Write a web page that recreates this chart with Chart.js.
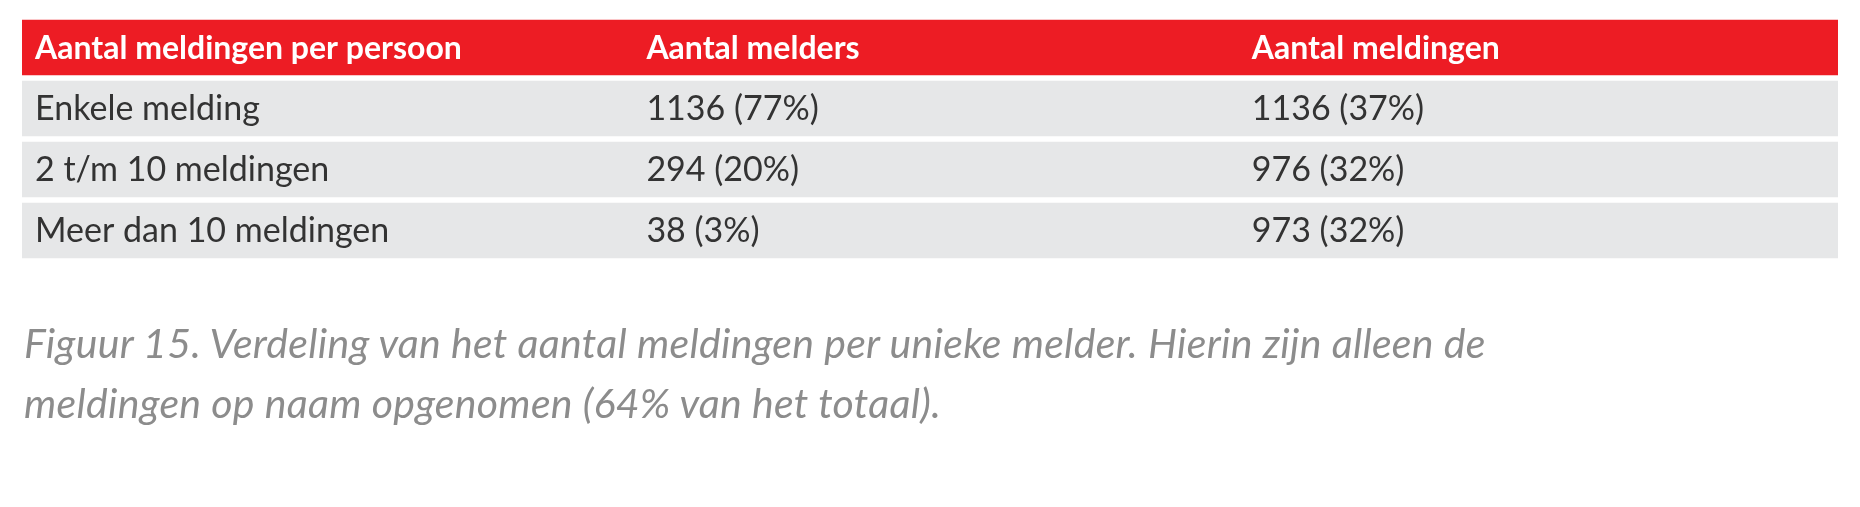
<!DOCTYPE html>
<html><head><meta charset="utf-8">
<script src="https://cdn.jsdelivr.net/npm/chart.js@4/dist/chart.umd.min.js"></script>
<style>
html,body{margin:0;padding:0;background:#fff;width:1860px;height:507px;overflow:hidden}
#wrap{position:absolute;left:0;top:0;width:1860px;height:507px}
#cap{position:absolute;left:24px;top:313px;font-family:Lato,"Open Sans",sans-serif;font-style:italic;font-size:41px;line-height:60px;color:#8c8c8c;letter-spacing:0.3px;white-space:nowrap}
</style></head><body>
<div id="wrap"><canvas id="c"></canvas></div>
<div id="cap">Figuur 15. Verdeling van het aantal meldingen per unieke melder. Hierin zijn alleen de<br>meldingen op naam opgenomen (64% van het totaal).</div>
<script>
const headers = ["Aantal meldingen per persoon", "Aantal melders", "Aantal meldingen"];
const categories = ["Enkele melding", "2 t/m 10 meldingen", "Meer dan 10 meldingen"];
const melders = ["1136 (77%)", "294 (20%)", "38 (3%)"];
const meldingen = ["1136 (37%)", "976 (32%)", "973 (32%)"];
const columnStarts = [0, 1.01, 2.01];

const rows = [headers].concat(categories.map((c, i) => [c, melders[i], meldingen[i]]));
const labels = rows.map((r, i) => "r" + i);

const tablePlugin = {
  id: 'tableText',
  afterDatasetsDraw(chart) {
    const ctx = chart.ctx, x = chart.scales.x, y = chart.scales.y;
    ctx.save();
    ctx.textBaseline = 'middle';
    rows.forEach((r, i) => {
      const py = y.getPixelForValue(i);
      ctx.fillStyle = i === 0 ? '#ffffff' : '#333333';
      ctx.font = (i === 0 ? 'bold 32px ' : '34px ') + 'Lato, "Open Sans", sans-serif';
      r.forEach((t, j) => ctx.fillText(t, x.getPixelForValue(columnStarts[j]) + 13, py + 1));
    });
    ctx.restore();
  }
};

new Chart(document.getElementById('c'), {
  type: 'bar',
  data: { labels, datasets: [{
    data: rows.map(() => [0, 3]),
    backgroundColor: rows.map((r, i) => i === 0 ? '#ed1c24' : '#e6e7e8'),
    barPercentage: 0.91, categoryPercentage: 1, borderWidth: 0, borderSkipped: false
  }]},
  options: {
    indexAxis: 'y', responsive: true, maintainAspectRatio: false, animation: false,
    layout: { padding: { left: 22, right: 22, top: 17, bottom: 246 } },
    plugins: { legend: { display: false }, tooltip: { enabled: false } },
    scales: {
      x: { min: 0, max: 3, display: false },
      y: { display: false, offset: true }
    }
  },
  plugins: [tablePlugin]
});
</script></body></html>
